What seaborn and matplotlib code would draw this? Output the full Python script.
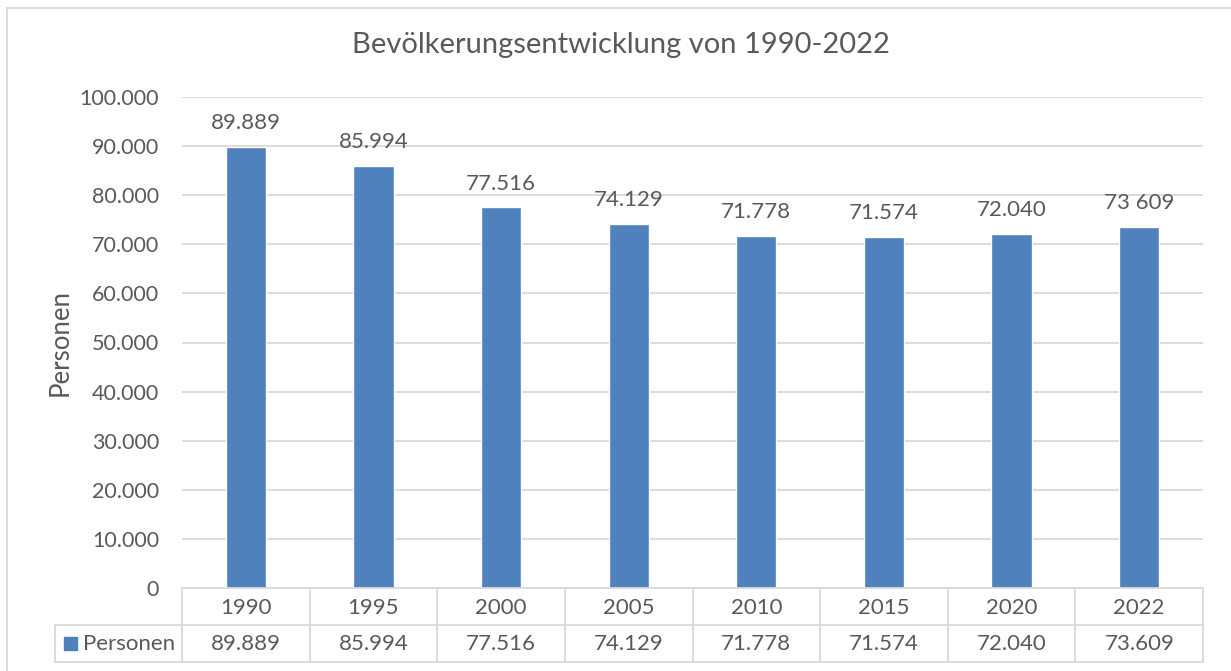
import matplotlib
matplotlib.use("Agg")
import matplotlib.pyplot as plt
import matplotlib.patches as mpatches
import matplotlib.lines as mlines
import seaborn as sns
import pandas as pd

years = ["1990", "1995", "2000", "2005", "2010", "2015", "2020", "2022"]
values = [89889, 85994, 77516, 74129, 71778, 71574, 72040, 73609]
bar_labels = ["89.889", "85.994", "77.516", "74.129", "71.778", "71.574", "72.040", "73 609"]
table_labels = ["89.889", "85.994", "77.516", "74.129", "71.778", "71.574", "72.040", "73.609"]
yticks = [0, 10000, 20000, 30000, 40000, 50000, 60000, 70000, 80000, 90000, 100000]
ytick_labels = ["0", "10.000", "20.000", "30.000", "40.000", "50.000", "60.000", "70.000", "80.000", "90.000", "100.000"]
series_name = "Personen"
title = "Bevölkerungsentwicklung von 1990-2022"

sns.set_theme(style="white")
plt.rcParams["font.family"] = ["Lato", "DejaVu Sans"]

TXT = "#595959"
GRID = "#d9d9d9"
BAR = "#4f81bd"
W, H = 1231, 671
FS = 16

fig = plt.figure(figsize=(W / 100, H / 100), dpi=100)
fig.patch.set_facecolor("white")

x0, x1, ytop, ybot = 182, 1203, 97, 588
ax = fig.add_axes([x0 / W, (H - ybot) / H, (x1 - x0) / W, (ybot - ytop) / H])

df = pd.DataFrame({"Jahr": years, "Wert": values})
sns.barplot(data=df, x="Jahr", y="Wert", color=BAR, width=0.315, saturation=1, ax=ax, zorder=3)

ax.set_ylim(0, 100000)
ax.set_xlim(-0.5, len(years) - 0.5)
ax.set_yticks(yticks)
ax.set_yticklabels(ytick_labels, fontsize=15.5, color=TXT)
ax.tick_params(axis="y", length=0, pad=16.5)
ax.set_xticks([])
ax.set_xlabel("")
ax.set_ylabel("")
ax.yaxis.grid(True, color=GRID, linewidth=1.3, zorder=0)
ax.set_axisbelow(True)
for s in ax.spines.values():
    s.set_visible(False)

for i, (v, lab) in enumerate(zip(values, bar_labels)):
    ax.annotate(lab, (i, v), xytext=(0, 10), textcoords="offset points",
                ha="center", va="bottom", fontsize=FS, color=TXT)

fig.text(621 / W, 1 - 45 / H, title, ha="center", va="center", fontsize=21, color=TXT)
fig.text(60 / W, 1 - 342 / H, series_name, rotation=90, ha="center", va="center",
         fontsize=18.5, color=TXT)

# data table
def fx(px):
    return px / W

def fy(py):
    return 1 - py / H

r0, r1, r2 = 588, 625, 662
lx = 55
n = len(years)
cw = (x1 - x0) / n
lw = 1.3
lines = []
lines.append(((x0, x1), (r0, r0)))
lines.append(((lx, x1), (r1, r1)))
lines.append(((lx, x1), (r2, r2)))
lines.append(((lx, lx), (r1, r2)))
for i in range(n + 1):
    xp = x0 + i * cw
    lines.append(((xp, xp), (r0, r2)))
for (xs, ys) in lines:
    fig.add_artist(mlines.Line2D([fx(xs[0]), fx(xs[1])], [fy(ys[0]), fy(ys[1])],
                                 color=GRID, linewidth=lw, transform=fig.transFigure))

for i in range(n):
    cx = x0 + (i + 0.5) * cw
    fig.text(fx(cx), fy((r0 + r1) / 2 + 1), years[i], ha="center", va="center", fontsize=FS, color=TXT)
    fig.text(fx(cx), fy((r1 + r2) / 2 + 1), table_labels[i], ha="center", va="center", fontsize=FS, color=TXT)

fig.add_artist(mpatches.Rectangle((fx(64), fy(650)), 13 / W, 13 / H, color=BAR,
                                  transform=fig.transFigure))
fig.text(fx(83), fy((r1 + r2) / 2 + 1), series_name, ha="left", va="center", fontsize=FS, color=TXT)

# outer chart border
fig.add_artist(mlines.Line2D([fx(7), fx(7)], [fy(8), 0], color=GRID, linewidth=1.3, transform=fig.transFigure))
fig.add_artist(mlines.Line2D([fx(7), 1], [fy(8), fy(8)], color=GRID, linewidth=1.3, transform=fig.transFigure))

fig.savefig("out.png", dpi=100, facecolor="white")
